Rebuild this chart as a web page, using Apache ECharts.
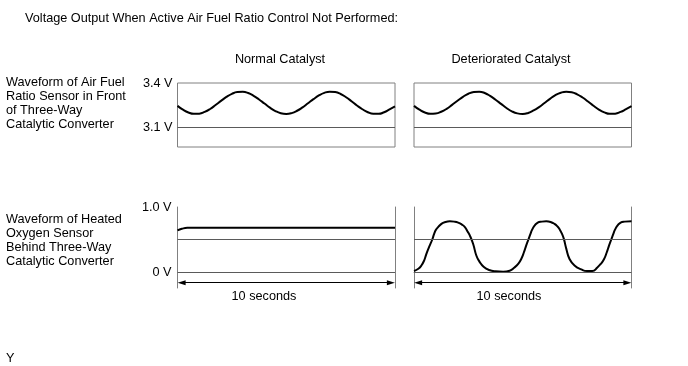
<!DOCTYPE html>
<html>
<head>
<meta charset="utf-8">
<script src="https://cdn.jsdelivr.net/npm/echarts@6/dist/echarts.min.js"></script>
<style>
html,body{margin:0;padding:0;background:#fff;}
#chart{width:688px;height:366px;}
</style>
</head>
<body>
<div id="chart"></div>
<script>
// ---- Data ----
const panelTitles = ['Normal Catalyst', 'Deteriorated Catalyst'];
const chartTitle = 'Voltage Output When Active Air Fuel Ratio Control Not Performed:';
const afrLabelLines = ['Waveform of Air Fuel', 'Ratio Sensor in Front', 'of Three-Way', 'Catalytic Converter'];
const o2LabelLines = ['Waveform of Heated', 'Oxygen Sensor', 'Behind Three-Way', 'Catalytic Converter'];
const durationLabel = '10 seconds';
const footnote = 'Y';

const afrTickValues = [3.1, 3.4];
const afrTickLabels = ['3.1 V', '3.4 V'];
const o2TickValues = [0, 1.0];
const o2TickLabels = ['0 V', '1.0 V'];

const afrRefLevel = 3.1;
const o2MidLevel = 0.5;
const o2ZeroLevel = 0;

// Time (s) samples for the air fuel ratio sensor traces
const afrTime = [0,0.25,0.5,0.75,1,1.25,1.5,1.75,2,2.25,2.5,2.75,3,3.25,3.5,3.75,4,4.25,4.5,4.75,5,5.25,5.5,5.75,6,6.25,6.5,6.75,7,7.25,7.5,7.75,8,8.25,8.5,8.75,9,9.25,9.5,9.75,10];
const normalAfr = [3.244,3.218,3.199,3.190,3.191,3.203,3.223,3.250,3.278,3.305,3.326,3.338,3.340,3.332,3.313,3.288,3.260,3.232,3.209,3.194,3.189,3.195,3.211,3.234,3.262,3.290,3.315,3.333,3.341,3.338,3.325,3.303,3.276,3.247,3.221,3.201,3.190,3.190,3.201,3.220,3.240];
const deterioratedAfr = [3.244,3.218,3.199,3.190,3.192,3.204,3.224,3.251,3.279,3.306,3.327,3.339,3.341,3.332,3.312,3.286,3.258,3.230,3.207,3.193,3.189,3.196,3.213,3.236,3.264,3.292,3.317,3.334,3.341,3.337,3.323,3.301,3.274,3.245,3.219,3.200,3.190,3.191,3.203,3.222,3.242];

// Heated oxygen sensor traces
const normalO2Time = [0, 0.2, 0.45, 10];
const normalO2 = [0.64, 0.665, 0.68, 0.68];
const deterioratedO2Time = [0,0.2,0.34,0.47,0.57,0.7,0.84,0.93,1.03,1.26,1.45,1.65,1.85,2.03,2.2,2.34,2.47,2.57,2.72,2.87,3.01,3.2,3.45,3.75,4.1,4.4,4.62,4.8,4.93,5.05,5.16,5.26,5.36,5.46,5.69,5.88,6.08,6.28,6.46,6.6,6.69,6.8,6.89,7.0,7.15,7.38,7.69,7.95,8.2,8.43,8.6,8.74,8.86,8.97,9.07,9.17,9.27,9.5,9.69,10];
const deterioratedO2 = [0.015,0.05,0.10,0.18,0.28,0.39,0.5,0.59,0.66,0.74,0.77,0.78,0.775,0.76,0.73,0.69,0.62,0.56,0.43,0.25,0.16,0.08,0.03,0.01,0.005,0.02,0.07,0.13,0.2,0.3,0.41,0.5,0.59,0.67,0.76,0.775,0.78,0.77,0.74,0.7,0.66,0.59,0.51,0.36,0.2,0.1,0.04,0.015,0.015,0.07,0.13,0.2,0.3,0.41,0.5,0.59,0.67,0.76,0.775,0.78];

const timeRange = [0, 10];
const arrowLevel = -0.165;
const arrowInset = 0.19;

// ---- Build option ----
const zip = (xs, ys) => xs.map((x, i) => [x, ys[i]]);
const FONT = '"Liberation Sans", Arial, sans-serif';
const FONT_SIZE = 12.7;
const BORDER = '#808080';
const INNER = '#5a5a5a';

const chart = echarts.init(document.getElementById('chart'), null, {renderer: 'canvas'});

function labelFor(values, labels) {
  return v => {
    let best = 0;
    values.forEach((t, i) => { if (Math.abs(t - v) < Math.abs(values[best] - v)) best = i; });
    return labels[best];
  };
}

const grids = [
  {left: 177.5, top: 83, width: 217.5, height: 64, show: true, borderColor: BORDER, borderWidth: 1},
  {left: 414, top: 83, width: 217.5, height: 64, show: true, borderColor: BORDER, borderWidth: 1},
  {left: 177.5, top: 207, width: 217.5, height: 81, show: false},
  {left: 414, top: 207, width: 217.5, height: 81, show: false}
];

const xAxes = grids.map((g, i) => ({
  type: 'value', gridIndex: i, min: timeRange[0], max: timeRange[1],
  show: i >= 2, position: 'top',
  axisLine: {show: i >= 2, lineStyle: {color: BORDER, width: 1}},
  axisTick: {show: false}, axisLabel: {show: false}, splitLine: {show: false}
}));

const afrMin = 2.964, afrMax = 3.4;
const o2Min = -0.246, o2Max = 1.0;

const yAxes = [
  {type: 'value', gridIndex: 0, min: afrMin, max: afrMax,
    axisLine: {show: false}, axisTick: {show: false}, splitLine: {show: false},
    axisLabel: {customValues: afrTickValues, formatter: labelFor(afrTickValues, afrTickLabels), margin: 5,
      fontSize: FONT_SIZE, fontFamily: FONT, color: '#000'}},
  {type: 'value', gridIndex: 1, min: afrMin, max: afrMax,
    axisLine: {show: false}, axisTick: {show: false}, splitLine: {show: false}, axisLabel: {show: false}},
  {type: 'value', gridIndex: 2, min: o2Min, max: o2Max, position: 'left',
    axisLine: {show: true, onZero: false, lineStyle: {color: BORDER, width: 1}}, axisTick: {show: false}, splitLine: {show: false},
    axisLabel: {customValues: o2TickValues, formatter: labelFor(o2TickValues, o2TickLabels), margin: 6,
      fontSize: FONT_SIZE, fontFamily: FONT, color: '#000'}},
  {type: 'value', gridIndex: 2, min: o2Min, max: o2Max, position: 'right',
    axisLine: {show: true, onZero: false, lineStyle: {color: BORDER, width: 1}}, axisTick: {show: false}, splitLine: {show: false}, axisLabel: {show: false}},
  {type: 'value', gridIndex: 3, min: o2Min, max: o2Max, position: 'left',
    axisLine: {show: true, onZero: false, lineStyle: {color: BORDER, width: 1}}, axisTick: {show: false}, splitLine: {show: false}, axisLabel: {show: false}},
  {type: 'value', gridIndex: 3, min: o2Min, max: o2Max, position: 'right',
    axisLine: {show: true, onZero: false, lineStyle: {color: BORDER, width: 1}}, axisTick: {show: false}, splitLine: {show: false}, axisLabel: {show: false}}
];

const waveStyle = {color: '#000', width: 2};
const refLine = {color: INNER, width: 1, type: 'solid'};

function o2MarkLine() {
  return {
    silent: true, symbol: ['none', 'none'], animation: false,
    label: {show: false}, lineStyle: refLine,
    data: [
      {yAxis: o2MidLevel},
      {yAxis: o2ZeroLevel},
      [
        {coord: [timeRange[0] + arrowInset, arrowLevel], symbol: 'triangle', symbolSize: [5, 8], lineStyle: {color: '#000', width: 1, type: 'solid'}},
        {coord: [timeRange[1] - arrowInset, arrowLevel], symbol: 'triangle', symbolSize: [5, 8]}
      ]
    ]
  };
}

const series = [
  {type: 'line', xAxisIndex: 0, yAxisIndex: 0, data: zip(afrTime, normalAfr), smooth: true, showSymbol: false, symbol: 'none',
    lineStyle: waveStyle, animation: false,
    markLine: {silent: true, symbol: ['none', 'none'], label: {show: false}, lineStyle: refLine, animation: false, data: [{yAxis: afrRefLevel}]}},
  {type: 'line', xAxisIndex: 1, yAxisIndex: 1, data: zip(afrTime, deterioratedAfr), smooth: true, showSymbol: false, symbol: 'none',
    lineStyle: waveStyle, animation: false,
    markLine: {silent: true, symbol: ['none', 'none'], label: {show: false}, lineStyle: refLine, animation: false, data: [{yAxis: afrRefLevel}]}},
  {type: 'line', xAxisIndex: 2, yAxisIndex: 2, data: zip(normalO2Time, normalO2), smooth: true, showSymbol: false, symbol: 'none',
    lineStyle: waveStyle, animation: false, markLine: o2MarkLine()},
  {type: 'line', xAxisIndex: 3, yAxisIndex: 4, data: zip(deterioratedO2Time, deterioratedO2), smooth: 0.5, showSymbol: false, symbol: 'none',
    lineStyle: waveStyle, animation: false, markLine: o2MarkLine()}
];

function txt(text, x, y, align) {
  return {type: 'text', silent: true, style: {text: text, x: x, y: y, font: FONT_SIZE + 'px ' + FONT, fill: '#000',
    textAlign: align || 'left', textVerticalAlign: 'middle'}};
}

const graphics = [txt(chartTitle, 25, 18.5)];
graphics.push(txt(panelTitles[0], 280, 59, 'center'));
graphics.push(txt(panelTitles[1], 511, 59, 'center'));
afrLabelLines.forEach((t, i) => graphics.push(txt(t, 6, 82 + i * 14.1)));
o2LabelLines.forEach((t, i) => graphics.push(txt(t, 6, 219.5 + i * 14.1)));
graphics.push(txt(durationLabel, 264, 296, 'center'));
graphics.push(txt(durationLabel, 509, 296, 'center'));
graphics.push(txt(footnote, 6, 358));

chart.setOption({
  animation: false,
  backgroundColor: '#fff',
  grid: grids,
  xAxis: xAxes,
  yAxis: yAxes,
  series: series,
  graphic: graphics
});
</script>
</body>
</html>
